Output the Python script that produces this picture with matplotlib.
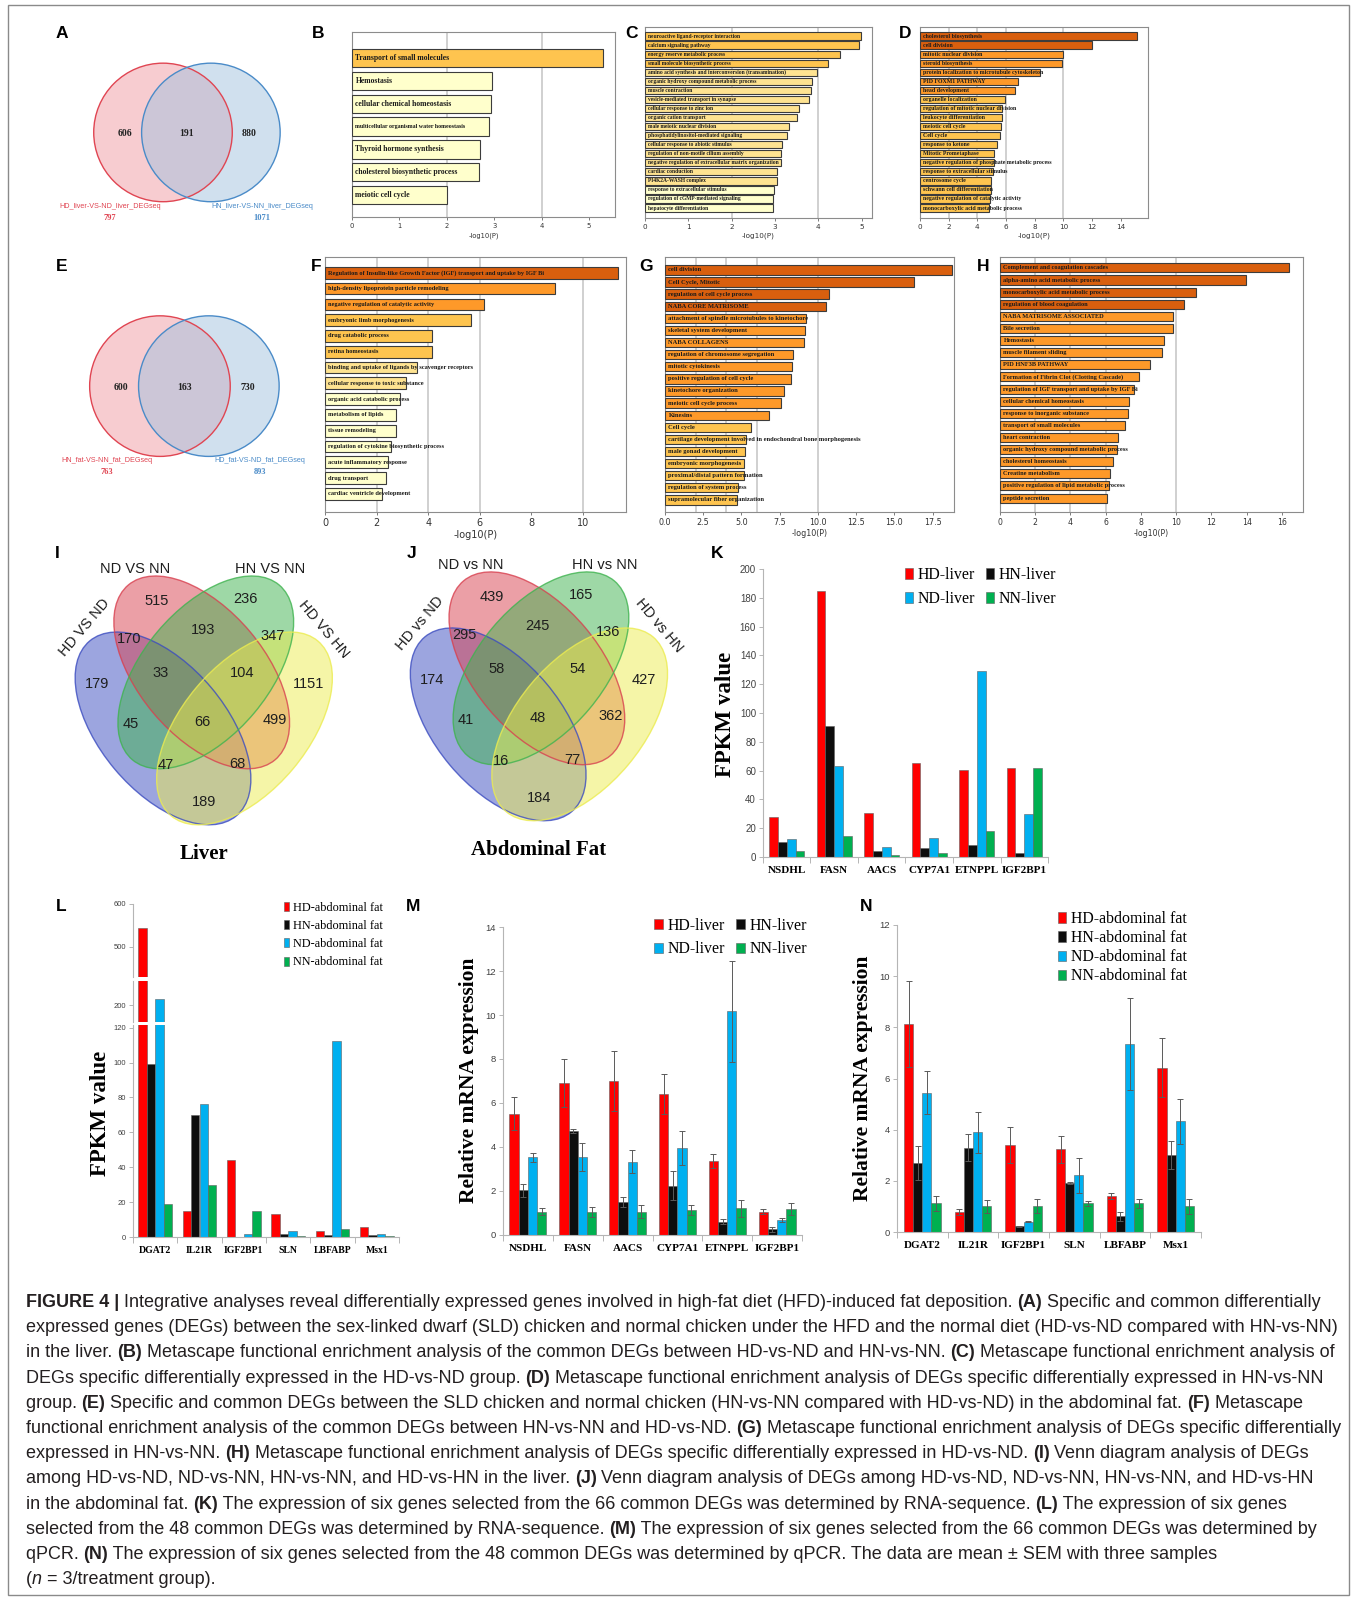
import re
import numpy as np
import matplotlib
matplotlib.use("Agg")
import matplotlib.pyplot as plt
from matplotlib.patches import Circle, Ellipse, Rectangle
from matplotlib.font_manager import FontProperties

W, H = 1357, 1597
S = W / 1332.0
SERIF = "Liberation Serif"
SANS = "Liberation Sans"

# ---------------- data ----------------
venn_a_counts = [606, 191, 880]
venn_a_sets = ["HD_liver-VS-ND_liver_DEGseq", "HN_liver-VS-NN_liver_DEGseq"]
venn_a_totals = [797, 1071]
venn_e_counts = [600, 163, 730]
venn_e_sets = ["HN_fat-VS-NN_fat_DEGseq", "HD_fat-VS-ND_fat_DEGseq"]
venn_e_totals = [763, 893]

b_terms = ["Transport of small molecules", "Hemostasis", "cellular chemical homeostasis",
           "multicellular organismal water homeostasis", "Thyroid hormone synthesis",
           "cholesterol biosynthetic process", "meiotic cell cycle"]
b_vals = [5.3, 2.95, 2.93, 2.9, 2.7, 2.69, 2.01]

c_terms = ["neuroactive ligand-receptor interaction", "calcium signaling pathway",
           "energy reserve metabolic process", "small molecule biosynthetic process",
           "amino acid synthesis and interconversion (transamination)",
           "organic hydroxy compound metabolic process", "muscle contraction",
           "vesicle-mediated transport in synapse", "cellular response to zinc ion",
           "organic cation transport", "male meiotic nuclear division",
           "phosphatidylinositol-mediated signaling", "cellular response to abiotic stimulus",
           "regulation of non-motile cilium assembly",
           "negative regulation of extracellular matrix organization", "cardiac conduction",
           "PI4K2A-WASH complex", "response to extracellular stimulus",
           "regulation of cGMP-mediated signaling", "hepatocyte differentiation"]
c_vals = [4.98, 4.95, 4.5, 4.22, 3.98, 3.86, 3.83, 3.79, 3.56, 3.52,
          3.33, 3.27, 3.17, 3.15, 3.15, 3.05, 3.05, 2.97, 2.96, 2.96]

d_terms = ["cholesterol biosynthesis", "cell division", "mitotic nuclear division",
           "steroid biosynthesis", "protein localization to microtubule cytoskeleton",
           "PID FOXM1 PATHWAY", "head development", "organelle localization",
           "regulation of mitotic nuclear division", "leukocyte differentiation",
           "meiotic cell cycle", "Cell cycle", "response to ketone", "Mitotic Prometaphase",
           "negative regulation of phosphate metabolic process",
           "response to extracellular stimulus", "centrosome cycle",
           "schwann cell differentiation", "negative regulation of catalytic activity",
           "monocarboxylic acid metabolic process"]
d_vals = [15.1, 12.0, 9.95, 9.9, 8.35, 6.85, 6.6, 5.9, 5.75, 5.75,
          5.65, 5.55, 5.4, 5.15, 5.15, 5.1, 4.95, 4.95, 4.9, 4.8]

f_terms = ["Regulation of Insulin-like Growth Factor (IGF) transport and uptake by IGF Bi",
           "high-density lipoprotein particle remodeling",
           "negative regulation of catalytic activity", "embryonic limb morphogenesis",
           "drug catabolic process", "retina homeostasis",
           "binding and uptake of ligands by scavenger receptors",
           "cellular response to toxic substance", "organic acid catabolic process",
           "metabolism of lipids", "tissue remodeling",
           "regulation of cytokine biosynthetic process", "acute inflammatory response",
           "drug transport", "cardiac ventricle development"]
f_vals = [11.35, 8.9, 6.15, 5.65, 4.15, 4.13, 3.55, 3.15, 2.9, 2.75,
          2.74, 2.55, 2.45, 2.35, 2.2]

g_terms = ["cell division", "Cell Cycle, Mitotic", "regulation of cell cycle process",
           "NABA CORE MATRISOME", "attachment of spindle microtubules to kinetochore",
           "skeletal system development", "NABA COLLAGENS",
           "regulation of chromosome segregation", "mitotic cytokinesis",
           "positive regulation of cell cycle", "kinetochore organization",
           "meiotic cell cycle process", "Kinesins", "Cell cycle",
           "cartilage development involved in endochondral bone morphogenesis",
           "male gonad development", "embryonic morphogenesis",
           "proximal/distal pattern formation", "regulation of system process",
           "supramolecular fiber organization"]
g_vals = [18.75, 16.3, 10.7, 10.5, 9.2, 9.15, 9.1, 8.35, 8.3, 8.25,
          7.8, 7.6, 6.8, 5.6, 5.3, 5.25, 5.15, 5.15, 4.75, 4.7]

h_terms = ["Complement and coagulation cascades", "alpha-amino acid metabolic process",
           "monocarboxylic acid metabolic process", "regulation of blood coagulation",
           "NABA MATRISOME ASSOCIATED", "Bile secretion", "Hemostasis",
           "muscle filament sliding", "PID HNF3B PATHWAY",
           "Formation of Fibrin Clot (Clotting Cascade)",
           "regulation of IGF transport and uptake by IGF Bi",
           "cellular chemical homeostasis", "response to inorganic substance",
           "transport of small molecules", "heart contraction",
           "organic hydroxy compound metabolic process", "cholesterol homeostasis",
           "Creatine metabolism", "positive regulation of lipid metabolic process",
           "peptide secretion"]
h_vals = [16.4, 13.95, 11.15, 10.45, 9.8, 9.8, 9.3, 9.2, 8.5, 7.9,
          7.6, 7.3, 7.25, 7.1, 6.7, 6.65, 6.4, 6.25, 6.2, 6.1]

# four-set venn region counts (same region order for I and J)
venn_i_counts = [515, 236, 170, 193, 347, 33, 104, 179, 1151, 45, 66, 499, 47, 68, 189]
venn_j_counts = [439, 165, 295, 245, 136, 58, 54, 174, 427, 41, 48, 362, 16, 77, 184]
venn_i_sets = ["HD VS ND", "ND VS NN", "HN VS NN", "HD VS HN"]
venn_j_sets = ["HD vs ND", "ND vs NN", "HN vs NN", "HD vs HN"]

liver_genes = ["NSDHL", "FASN", "AACS", "CYP7A1", "ETNPPL", "IGF2BP1"]
fat_genes = ["DGAT2", "IL21R", "IGF2BP1", "SLN", "LBFABP", "Msx1"]
liver_groups = ["HD-liver", "HN-liver", "ND-liver", "NN-liver"]
fat_groups = ["HD-abdominal fat", "HN-abdominal fat", "ND-abdominal fat", "NN-abdominal fat"]

k_hd = [27.5, 185, 30.5, 65.5, 60.5, 62]
k_hn = [10.5, 91, 4, 6, 8, 2.5]
k_nd = [12.5, 63.5, 7, 13.5, 129, 30]
k_nn = [4.5, 14.5, 1.5, 2.5, 18, 62]

l_hd = [544, 15, 44, 13, 3.5, 5.5]
l_hn = [99, 70, 0, 2, 1, 1]
l_nd = [214, 76, 2, 3.5, 112.5, 2]
l_nn = [19, 30, 15, 0.8, 4.5, 0.3]

m_hd = [5.52, 6.92, 6.99, 6.43, 3.36, 1.06]
m_hd_err = [0.76, 1.1, 1.36, 0.91, 0.3, 0.11]
m_hn = [2.04, 4.74, 1.51, 2.24, 0.61, 0.26]
m_hn_err = [0.3, 0.1, 0.23, 0.66, 0.12, 0.12]
m_nd = [3.53, 3.53, 3.33, 3.97, 10.16, 0.68]
m_nd_err = [0.22, 0.63, 0.53, 0.77, 2.28, 0.11]
m_nn = [1.06, 1.06, 1.06, 1.14, 1.21, 1.17]
m_nn_err = [0.15, 0.23, 0.3, 0.22, 0.38, 0.27]

n_hd = [8.13, 0.78, 3.4, 3.23, 1.4, 6.42]
n_hd_err = [1.7, 0.12, 0.7, 0.52, 0.12, 1.15]
n_hn = [2.7, 3.3, 0.22, 1.92, 0.62, 3.02]
n_hn_err = [0.68, 0.52, 0.02, 0.03, 0.18, 0.55]
n_nd = [5.45, 3.9, 0.4, 2.22, 7.35, 4.32]
n_nd_err = [0.83, 0.8, 0.02, 0.68, 1.78, 0.88]
n_nn = [1.12, 1.0, 1.03, 1.12, 1.12, 1.0]
n_nn_err = [0.3, 0.25, 0.27, 0.1, 0.18, 0.3]

caption = [
    "**FIGURE 4 |** Integrative analyses reveal differentially expressed genes involved in high-fat diet (HFD)-induced fat deposition. **(A)** Specific and common differentially",
    "expressed genes (DEGs) between the sex-linked dwarf (SLD) chicken and normal chicken under the HFD and the normal diet (HD-vs-ND compared with HN-vs-NN)",
    "in the liver. **(B)** Metascape functional enrichment analysis of the common DEGs between HD-vs-ND and HN-vs-NN. **(C)** Metascape functional enrichment analysis of",
    "DEGs specific differentially expressed in the HD-vs-ND group. **(D)** Metascape functional enrichment analysis of DEGs specific differentially expressed in HN-vs-NN",
    "group. **(E)** Specific and common DEGs between the SLD chicken and normal chicken (HN-vs-NN compared with HD-vs-ND) in the abdominal fat. **(F)** Metascape",
    "functional enrichment analysis of the common DEGs between HN-vs-NN and HD-vs-ND. **(G)** Metascape functional enrichment analysis of DEGs specific differentially",
    "expressed in HN-vs-NN. **(H)** Metascape functional enrichment analysis of DEGs specific differentially expressed in HD-vs-ND. **(I)** Venn diagram analysis of DEGs",
    "among HD-vs-ND, ND-vs-NN, HN-vs-NN, and HD-vs-HN in the liver. **(J)** Venn diagram analysis of DEGs among HD-vs-ND, ND-vs-NN, HN-vs-NN, and HD-vs-HN",
    "in the abdominal fat. **(K)** The expression of six genes selected from the 66 common DEGs was determined by RNA-sequence. **(L)** The expression of six genes",
    "selected from the 48 common DEGs was determined by RNA-sequence. **(M)** The expression of six genes selected from the 66 common DEGs was determined by",
    "qPCR. **(N)** The expression of six genes selected from the 48 common DEGs was determined by qPCR. The data are mean \u00b1 SEM with three samples",
    "(*n* = 3/treatment group).",
]

BAR_COLORS = ["#ff0000", "#0d0d0d", "#00b0f0", "#00b050"]

# ---------------- figure ----------------
fig = plt.figure(figsize=(W / 100, H / 100), dpi=100)
ov = fig.add_axes([0, 0, 1, 1])
ov.set_xlim(0, W)
ov.set_ylim(H, 0)
ov.axis("off")


def add_ax(x0, y0, x1, y1):
    return fig.add_axes([x0 / W, 1 - y1 / H, (x1 - x0) / W, (y1 - y0) / H])


def P(x, y):
    return x * S, y * S


def ftext(x, y, s, **kw):
    ov.text(x * S, y * S, s, **kw)


# outer frame
ov.add_patch(Rectangle((8, 5), W - 16, 1590, fill=False, ec="#8a8a8a", lw=1.0))

# panel letters
for lab, x, y in [("A", 61, 33), ("B", 312, 33), ("C", 620, 33), ("D", 888, 33),
                  ("E", 60, 262), ("F", 310, 262), ("G", 634, 262), ("H", 965, 262),
                  ("I", 56, 543), ("J", 404, 543), ("K", 704, 543),
                  ("L", 60, 890), ("M", 405, 890), ("N", 850, 890)]:
    ftext(x, y, lab, family=SANS, weight="bold", fontsize=12.5, ha="center", va="center")


# ---------- two-set venns (A, E) ----------
def venn2(cx1, cx2, cy, r, counts, sets, totals):
    ov.add_patch(Circle(P(cx1, cy), r * S, fc="#ef8f98", alpha=0.45, ec="none"))
    ov.add_patch(Circle(P(cx2, cy), r * S, fc="#a3c2de", alpha=0.5, ec="none"))
    ov.add_patch(Circle(P(cx1, cy), r * S, fill=False, ec="#e04552", lw=1.0))
    ov.add_patch(Circle(P(cx2, cy), r * S, fill=False, ec="#4a8bc8", lw=1.0))
    for dx, c in zip([-0.55, 0.5 * (cx2 - cx1) / r, (cx2 - cx1) / r + 0.55], counts):
        ftext(cx1 + dx * r, cy + 1, str(c), family=SERIF, weight="bold", fontsize=7,
              ha="center", va="center", color="#222222")
    for x, s, t, col in [(cx1 - 52, sets[0], totals[0], "#e04552"),
                         (cx2 + 50, sets[1], totals[1], "#4a8bc8")]:
        ftext(x, cy + 73, s, family=SANS, fontsize=5.2, ha="center", va="center", color=col)
        ftext(x, cy + 84, str(t), family=SERIF, weight="bold", fontsize=6, ha="center",
              va="center", color=col)


venn2(160, 207, 130, 68, venn_a_counts, venn_a_sets, venn_a_totals)
venn2(157, 205, 379, 69, venn_e_counts, venn_e_sets, venn_e_totals)


# ---------- four-set venns (I, J) ----------
ELL = [("#3b4cc0", 160, 715, 50), ("#d8404f", 198, 660, 50),
       ("#3fb34f", 202, 660, -50), ("#ecec50", 240, 715, -50)]
REGIONS = [(154, 590), (241, 588), (127, 627), (199, 618), (268, 624), (158, 661),
           (238, 661), (95, 671), (303, 671), (128, 711), (199, 709), (270, 707),
           (163, 751), (233, 750), (200, 787)]
SETPOS = [(83, 616, 50), (133, 559, 0), (265, 559, 0), (318, 618, -50)]


def venn4(dx, dy, counts, sets, title):
    for col, cx, cy, ang in ELL:
        ov.add_patch(Ellipse(P(cx + dx, cy + dy), 224 * S, 124 * S, angle=ang,
                             fc=col, alpha=0.5, ec="none"))
    for col, cx, cy, ang in ELL:
        ov.add_patch(Ellipse(P(cx + dx, cy + dy), 224 * S, 124 * S, angle=ang,
                             fill=False, ec=col, alpha=0.8, lw=1.0))
    for (x, y), c in zip(REGIONS, counts):
        ftext(x + dx, y + dy, str(c), family=SANS, fontsize=10.5, ha="center",
              va="center", color="#1e1e1e")
    for (x, y, rot), s in zip(SETPOS, sets):
        ftext(x + dx, y + dy, s, family=SANS, fontsize=10.5, ha="center", va="center",
              rotation=rot, color="#1e1e1e")
    ftext(200 + dx, 838 + dy, title, family=SERIF, weight="bold", fontsize=15,
          ha="center", va="center")


venn4(0, 0, venn_i_counts, venn_i_sets, "Liver")
venn4(329, -4, venn_j_counts, venn_j_sets, "Abdominal Fat")


# ---------- metascape bar panels ----------
def ms_color(v):
    if v >= 10:
        return "#d95f0e"
    if v >= 6:
        return "#fe9929"
    if v >= 4:
        return "#fec44f"
    if v >= 3:
        return "#fee391"
    return "#ffffcc"


def metascape(box, terms, vals, xmax, ticks, ylim, bar_h, fs, tfs, pad, fmt="{:g}"):
    ax = add_ax(*box)
    y = np.arange(len(terms))
    ax.barh(y, vals, height=bar_h, color=[ms_color(v) for v in vals],
            edgecolor="#3c3c3c", linewidth=0.8, zorder=3)
    for yi, t in zip(y, terms):
        size = fs * 0.78 if len(t) > 34 and fs > 5 else fs
        ax.annotate(t, (0, yi), xytext=(2.5, 0), textcoords="offset points", ha="left",
                    va="center", family=SERIF, weight="bold", fontsize=size,
                    color="#1a1a1a", zorder=4)
    for g in [2, 4, 6, 10]:
        if g < xmax:
            ax.axvline(g, color="#c4c4c4", lw=1.1, zorder=1)
    ax.set_xlim(0, xmax)
    ax.set_ylim(*ylim)
    ax.set_yticks([])
    ax.set_xticks(ticks)
    ax.set_xticklabels([fmt.format(t) for t in ticks])
    ax.tick_params(axis="x", labelsize=tfs, length=2.5, width=0.6, color="#666666",
                   labelcolor="#333333", pad=1.5)
    for sp in ax.spines.values():
        sp.set_color("#8c8c8c")
        sp.set_linewidth(0.8)
    ax.set_xlabel("-log10(P)", fontsize=tfs, color="#333333", labelpad=pad)
    return ax


metascape((352, 32, 615, 217), b_terms, b_vals, 5.55, range(0, 6), (6.96, -1.14),
          0.8, 5.5, 4.9, 2.5)
metascape((645, 27, 872, 218), c_terms, c_vals, 5.24, range(0, 6), (20.1, -1.0),
          0.8, 4.0, 5.2, 2)
metascape((920, 27, 1148, 218), d_terms, d_vals, 15.9, range(0, 15, 2), (20.1, -1.0),
          0.8, 4.2, 5.2, 2)
metascape((325, 257, 626, 512), f_terms, f_vals, 11.67, range(0, 11, 2), (15.15, -1.0),
          0.74, 4.6, 7.0, 2)
metascape((665, 257, 954, 512), g_terms, g_vals, 18.9, np.arange(0, 18, 2.5), (20.0, -1.07),
          0.77, 4.7, 5.8, 2, fmt="{:.1f}")
metascape((1000, 257, 1303, 512), h_terms, h_vals, 17.2, range(0, 17, 2), (20.15, -0.9),
          0.75, 4.6, 5.6, 2)


# ---------- grouped bar panels ----------
def grouped(ax, series, width, errs=None):
    x = np.arange(len(series[0]))
    conts = []
    for i, vals in enumerate(series):
        kw = {}
        if errs is not None:
            kw = dict(yerr=errs[i], error_kw=dict(ecolor="#5a5a5a", elinewidth=0.7,
                                                   capsize=2, capthick=0.7))
        conts.append(ax.bar(x + (i - 1.5) * width, vals, width, color=BAR_COLORS[i],
                            edgecolor="#606060", linewidth=0.4, zorder=2, **kw))
    return conts


def style_ax(ax, genes, ysize, xsize, bottom=True):
    for s in ["top", "right"]:
        ax.spines[s].set_visible(False)
    ax.spines["left"].set_color("#b5b5b5")
    ax.spines["bottom"].set_color("#b5b5b5")
    ax.set_xlim(-0.5, len(genes) - 0.5)
    ax.tick_params(axis="y", length=3, width=0.7, color="#b5b5b5", labelsize=ysize,
                   labelcolor="#404040", pad=2)
    for lab in ax.get_yticklabels():
        lab.set_family(SANS)
    if bottom:
        ax.set_xticks(range(len(genes)))
        ax.set_xticklabels(genes, family=SERIF, weight="bold", fontsize=xsize)
        ax.set_xticks(np.arange(len(genes) + 1) - 0.5, minor=True)
        ax.tick_params(axis="x", which="major", length=0, pad=6.5)
        ax.tick_params(axis="x", which="minor", length=4, width=0.7, color="#b5b5b5")
    else:
        ax.spines["bottom"].set_visible(False)
        ax.set_xticks([])
        ax.patch.set_visible(False)


def legend(ax, conts, labels, x, y, ncol, fs, hl, hh, ls, cs=0.7):
    if ncol == 2:
        order = [0, 2, 1, 3]
    else:
        order = [0, 1, 2, 3]
    ax.legend([conts[i] for i in order], [labels[i] for i in order], ncol=ncol,
              loc="upper left", bbox_to_anchor=(x / W, 1 - y / H),
              bbox_transform=fig.transFigure, frameon=False, borderpad=0,
              borderaxespad=0, handlelength=hl, handleheight=hh, handletextpad=0.3,
              labelspacing=ls, columnspacing=cs, prop=dict(family=SERIF, size=fs))


# K
axk = add_ax(763, 569, 1048, 857)
ck = grouped(axk, [k_hd, k_hn, k_nd, k_nn], 0.185)
axk.set_ylim(0, 200)
axk.set_yticks(range(0, 201, 20))
style_ax(axk, liver_genes, 7, 8)
legend(axk, ck, liver_groups, 905, 567, 2, 11.4, 0.5, 0.7, 0.5)
fig.text(725 / W, 1 - 714 / H, "FPKM value", rotation=90, ha="center", va="center",
         family=SERIF, weight="bold", fontsize=16.5)

# L (broken y axis: three stacked segments)
axl_low = add_ax(133, 1025, 399, 1237)
axl_mid = add_ax(133, 981, 399, 1022)
axl_top = add_ax(133, 904, 399, 977)
for ax_, lim, ticks, bottom in [(axl_low, (0, 121.5), range(0, 121, 20), True),
                                (axl_mid, (160.5, 255.8), [200], False),
                                (axl_top, (430, 600), [500, 600], False)]:
    cl = grouped(ax_, [l_hd, l_hn, l_nd, l_nn], 0.19)
    ax_.set_ylim(*lim)
    ax_.set_yticks(list(ticks))
    style_ax(ax_, fat_genes, 5.5, 7, bottom)
    if bottom:
        cl_low = cl
legend(axl_top, cl_low, fat_groups, 284, 902, 1, 8.8, 0.42, 0.75, 0.5)
fig.text(100 / W, 1 - 1113 / H, "FPKM value", rotation=90, ha="center", va="center",
         family=SERIF, weight="bold", fontsize=16.5)

# M
axm = add_ax(503, 927, 802, 1235)
cm = grouped(axm, [m_hd, m_hn, m_nd, m_nn], 0.185, [m_hd_err, m_hn_err, m_nd_err, m_nn_err])
axm.set_ylim(0, 14)
axm.set_yticks(range(0, 15, 2))
style_ax(axm, liver_genes, 6.8, 8)
legend(axm, cm, liver_groups, 654, 918, 2, 11.4, 0.55, 0.6, 0.45)
fig.text(469 / W, 1 - 1080 / H, "Relative mRNA expression", rotation=90, ha="center",
         va="center", family=SERIF, weight="bold", fontsize=15.5)

# N
axn = add_ax(897, 925, 1201, 1232)
cn = grouped(axn, [n_hd, n_hn, n_nd, n_nn], 0.18, [n_hd_err, n_hn_err, n_nd_err, n_nn_err])
axn.set_ylim(0, 12)
axn.set_yticks(range(0, 13, 2))
style_ax(axn, fat_genes, 6.8, 8)
legend(axn, cn, fat_groups, 1058, 911, 1, 11.4, 0.52, 0.62, 0.2)
fig.text(863 / W, 1 - 1078 / H, "Relative mRNA expression", rotation=90, ha="center",
         va="center", family=SERIF, weight="bold", fontsize=15.5)

# ---------- caption ----------
renderer = fig.canvas.get_renderer()


def seg_width(txt, prop):
    w1 = renderer.get_text_width_height_descent("|" + txt + "|", prop, ismath=False)[0]
    w0 = renderer.get_text_width_height_descent("||", prop, ismath=False)[0]
    return w1 - w0


def parse(line):
    out = []
    for part in re.split(r"(\*\*.+?\*\*|\*.+?\*)", line):
        if not part:
            continue
        if part.startswith("**"):
            out.append((part[2:-2], "bold", "normal"))
        elif part.startswith("*"):
            out.append((part[1:-1], "normal", "italic"))
        else:
            out.append((part, "normal", "normal"))
    return out


ref = FontProperties(family=SANS, size=10)
cap_size = 10 * 1313 / seg_width(caption[1], ref)
x_left = 25.5
for i, line in enumerate(caption):
    x = x_left
    yb = 1307 + i * 25.2
    for txt, wt, st in parse(line):
        prop = FontProperties(family=SANS, size=cap_size, weight=wt, style=st)
        fig.text(x / W, 1 - yb / H, txt, fontproperties=prop, ha="left", va="baseline",
                 color="#231f20")
        x += seg_width(txt, prop) * 100 / fig.dpi

fig.savefig("out.png", dpi=100)
